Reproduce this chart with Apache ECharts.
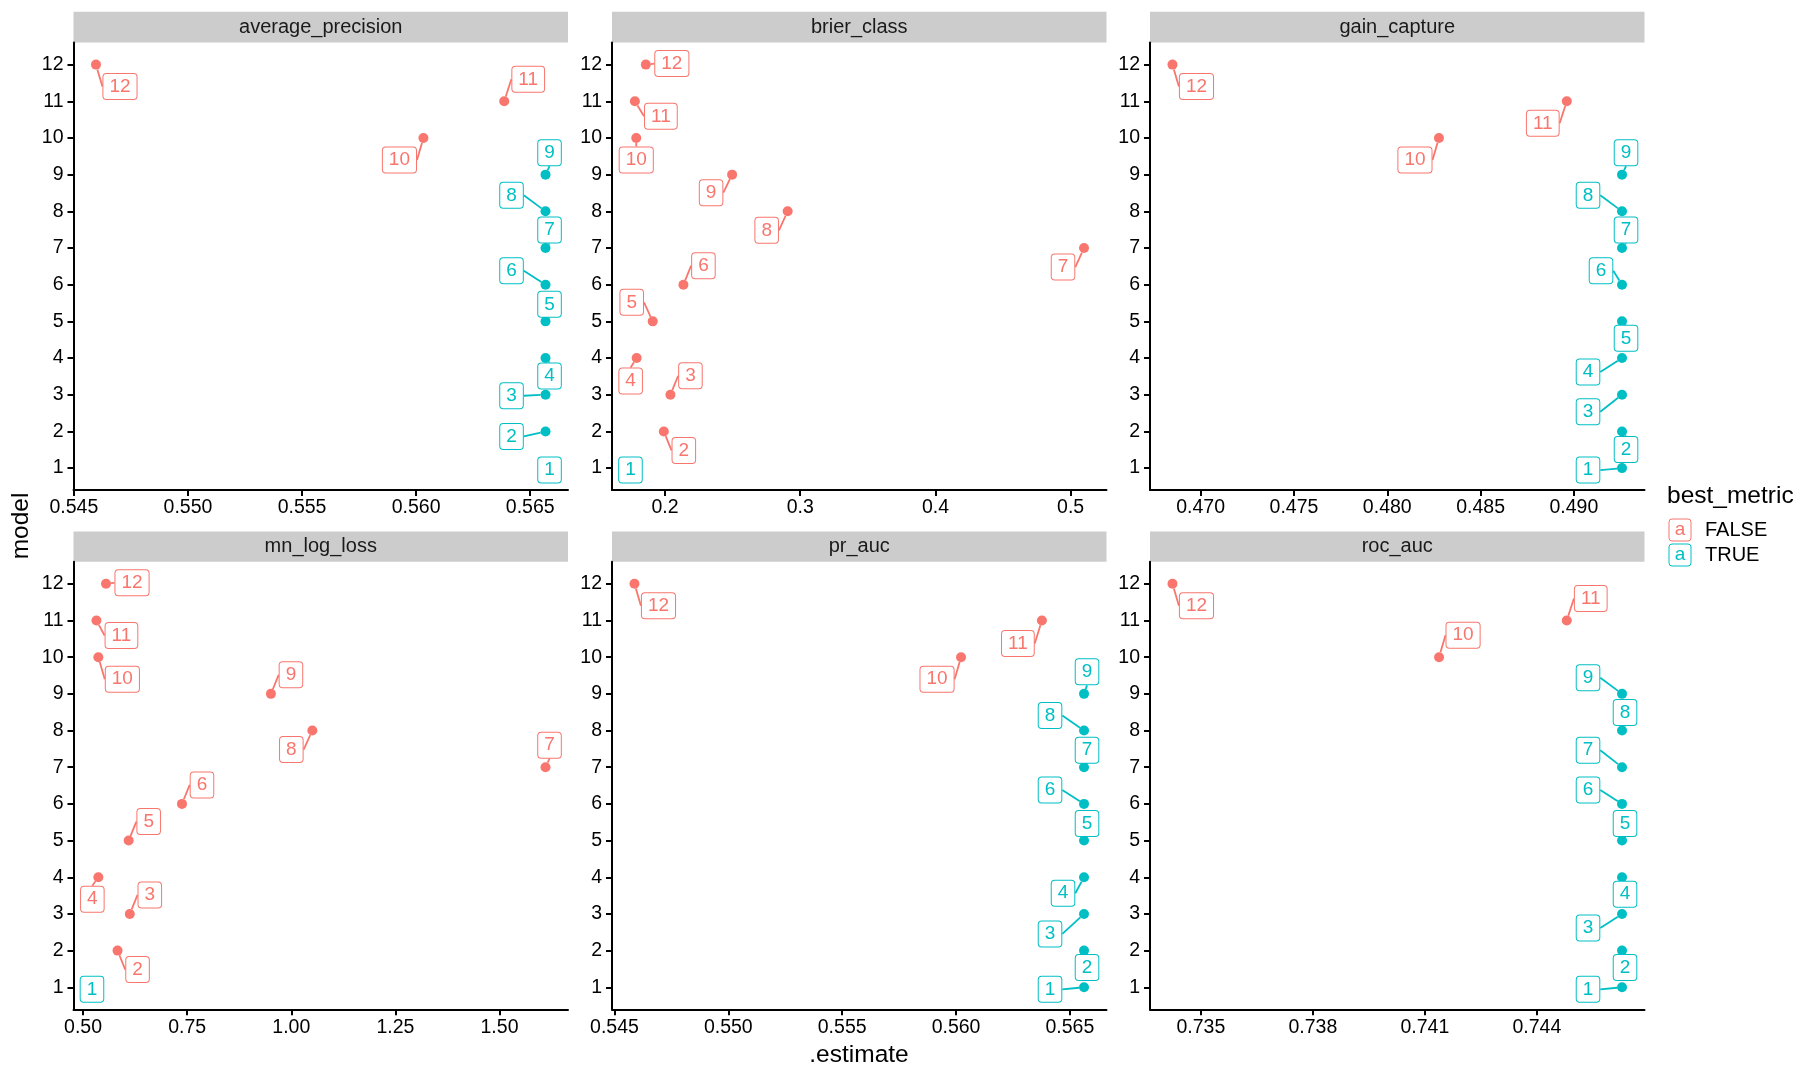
<!DOCTYPE html>
<html>
<head>
<meta charset="utf-8">
<script src="https://cdn.jsdelivr.net/npm/echarts@6/dist/echarts.min.js"></script>
<style>
  html, body { margin: 0; padding: 0; background: #fff; }
  #chart { width: 1800px; height: 1080px; }
</style>
</head>
<body>
<div id="chart"></div>
<script>
// ---- data ----
var models = ['1', '2', '3', '4', '5', '6', '7', '8', '9', '10', '11', '12'];
var metrics = ['average_precision', 'brier_class', 'gain_capture', 'mn_log_loss', 'pr_auc', 'roc_auc'];

var averagePrecision = [0.56567, 0.56567, 0.56567, 0.56567, 0.56567, 0.56567, 0.56567, 0.56567, 0.56567, 0.56032, 0.56386, 0.54597];
var brierClass = [0.1774, 0.1991, 0.2040, 0.1790, 0.1909, 0.2136, 0.5099, 0.2907, 0.2496, 0.1787, 0.1777, 0.1858];
var gainCapture = [0.49258, 0.49258, 0.49258, 0.49258, 0.49258, 0.49258, 0.49258, 0.49258, 0.49258, 0.48277, 0.48962, 0.46849];
var mnLogLoss = [0.5311, 0.5829, 0.6123, 0.5368, 0.6096, 0.7376, 1.6105, 1.0506, 0.9512, 0.5368, 0.5322, 0.5552];
var prAuc = [0.56562, 0.56562, 0.56562, 0.56562, 0.56562, 0.56562, 0.56562, 0.56562, 0.56562, 0.56022, 0.56377, 0.54588];
var rocAuc = [0.74628, 0.74628, 0.74628, 0.74628, 0.74628, 0.74628, 0.74628, 0.74628, 0.74628, 0.74138, 0.7448, 0.73424];

// models flagged best_metric = TRUE
var bestAP = [1, 2, 3, 4, 5, 6, 7, 8, 9];
var bestBrier = [1];
var bestGain = [1, 2, 3, 4, 5, 6, 7, 8, 9];
var bestLogLoss = [1];
var bestPR = [1, 2, 3, 4, 5, 6, 7, 8, 9];
var bestROC = [1, 2, 3, 4, 5, 6, 7, 8, 9];

// x tick values
var ticksAP = [0.545, 0.550, 0.555, 0.560, 0.565];
var ticksBrier = [0.2, 0.3, 0.4, 0.5];
var ticksGain = [0.470, 0.475, 0.480, 0.485, 0.490];
var ticksLogLoss = [0.50, 0.75, 1.00, 1.25, 1.50];
var ticksPR = [0.545, 0.550, 0.555, 0.560, 0.565];
var ticksROC = [0.735, 0.738, 0.741, 0.744];
var ticksModel = [1, 2, 3, 4, 5, 6, 7, 8, 9, 10, 11, 12];

// ---- layout / style ----
var colFalse = '#F8766D', colTrue = '#00BFC4';
var font = 'Liberation Sans, Arial, sans-serif';
var colLeft = [73.5, 612, 1150], panelW = 494.5;
var rowTop = [42.6, 561.8], panelH = 447.5;
var decimals = [3, 1, 3, 2, 3, 3];

// repel-like nudges (px) of each label from its point, models 1..12
var nudges = [
  [[4,2],[-34,5],[-34,1],[4,18],[4,-17],[-34,-14],[4,-18],[-34,-16],[4,-22],[-24,22],[24,-22],[24,22]],
  [[-4,2],[20,19],[20,-19],[-6,23],[-21,-19],[20,-19],[-21,19],[-21,19],[-21,18],[0,22],[26,15],[26,-1]],
  [[-34,2],[4,18],[-34,17],[-34,14],[4,17],[-21,-14],[4,-18],[-34,-16],[4,-22],[-24,22],[-24,22],[24,22]],
  [[-4,2],[20,19],[20,-19],[-6,22],[20,-19],[20,-19],[4,-22],[-21,19],[20,-19],[24,22],[25,15],[26,-1]],
  [[-34,2],[3,17],[-34,20],[-21,16],[3,-17],[-34,-14],[3,-17],[-34,-15],[3,-22],[-24,22],[-24,23],[24,22]],
  [[-34,2],[3,17],[-34,14],[3,17],[3,-17],[-34,-14],[-34,-17],[3,-18],[-34,-16],[24,-22],[24,-22],[24,22]]
];

var panelValues = [averagePrecision, brierClass, gainCapture, mnLogLoss, prAuc, rocAuc];
var panelBest = [bestAP, bestBrier, bestGain, bestLogLoss, bestPR, bestROC];
var panelTicks = [ticksAP, ticksBrier, ticksGain, ticksLogLoss, ticksPR, ticksROC];

var grids = [], xAxes = [], yAxes = [], series = [], graphics = [];

metrics.forEach(function (name, i) {
  var col = i % 3, row = Math.floor(i / 3);
  var vals = panelValues[i];
  var lo = Math.min.apply(null, vals), hi = Math.max.apply(null, vals);
  var pad = (hi - lo) * 0.05;

  grids.push({ left: colLeft[col], top: rowTop[row], width: panelW, height: panelH });

  xAxes.push({
    type: 'value', gridIndex: i, min: lo - pad, max: hi + pad,
    axisLine: { show: true, onZero: false, lineStyle: { color: '#000', width: 2 } },
    axisTick: { show: true, length: 6, customValues: panelTicks[i], lineStyle: { color: '#000', width: 2 } },
    axisLabel: {
      customValues: panelTicks[i], margin: 8, color: '#000', fontSize: 19.5, fontFamily: font,
      formatter: (function (d) { return function (v) { return v.toFixed(d); }; })(decimals[i])
    },
    splitLine: { show: false }
  });

  yAxes.push({
    type: 'value', gridIndex: i, min: 0.4, max: 12.6,
    axisLine: { show: true, onZero: false, lineStyle: { color: '#000', width: 2 } },
    axisTick: { show: true, length: 6, customValues: ticksModel, lineStyle: { color: '#000', width: 2 } },
    axisLabel: { customValues: ticksModel, margin: 10, color: '#000', fontSize: 19.5, fontFamily: font },
    splitLine: { show: false }
  });

  var best = panelBest[i];
  var nd = nudges[i];
  series.push({
    type: 'scatter', xAxisIndex: i, yAxisIndex: i, symbolSize: 10,
    itemStyle: { opacity: 1 },
    data: vals.map(function (v, k) {
      var c = best.indexOf(k + 1) >= 0 ? colTrue : colFalse;
      var far = Math.sqrt(nd[k][0] * nd[k][0] + nd[k][1] * nd[k][1]) > 12;
      return {
        value: [v, k + 1], name: models[k],
        itemStyle: { color: c },
        label: { color: c, borderColor: c },
        labelLine: { show: far }
      };
    }),
    label: {
      show: true, position: 'inside', formatter: '{b}',
      fontSize: 19, fontFamily: font,
      backgroundColor: '#fff', borderWidth: 1, borderRadius: 3,
      padding: [4, 6, 2, 6]
    },
    labelLine: { show: true, length2: 0, lineStyle: { width: 1.8 } },
    labelLayout: function (p) { return { dx: nd[p.dataIndex][0], dy: nd[p.dataIndex][1] }; }
  });

  // facet strip
  var stripTop = row === 0 ? 11.8 : 531.4;
  var stripH = rowTop[row] - stripTop;
  graphics.push({
    type: 'rect', shape: { x: colLeft[col], y: stripTop, width: panelW, height: stripH },
    style: { fill: '#cccccc' }, silent: true
  });
  graphics.push({
    type: 'text', x: colLeft[col] + panelW / 2, y: stripTop + stripH / 2,
    style: { text: name, fill: '#1a1a1a', font: '20px ' + font, align: 'center', verticalAlign: 'middle' }
  });
});

// axis titles
graphics.push({
  type: 'text', x: 859, y: 1055,
  style: { text: '.estimate', fill: '#000', font: '24.5px ' + font, align: 'center', verticalAlign: 'middle' }
});
graphics.push({
  type: 'text', x: 21, y: 526, rotation: Math.PI / 2,
  style: { text: 'model', fill: '#000', font: '24.5px ' + font, align: 'center', verticalAlign: 'middle' }
});

// legend
graphics.push({
  type: 'text', x: 1667, y: 496,
  style: { text: 'best_metric', fill: '#000', font: '24.5px ' + font, align: 'left', verticalAlign: 'middle' }
});
[['FALSE', colFalse, 530], ['TRUE', colTrue, 555]].forEach(function (it) {
  graphics.push({
    type: 'rect', shape: { x: 1669, y: it[2] - 11, width: 22, height: 22, r: 3 },
    style: { fill: '#fff', stroke: it[1], lineWidth: 1 }
  });
  graphics.push({
    type: 'text', x: 1680, y: it[2],
    style: { text: 'a', fill: it[1], font: '19px ' + font, align: 'center', verticalAlign: 'middle' }
  });
  graphics.push({
    type: 'text', x: 1705, y: it[2],
    style: { text: it[0], fill: '#000', font: '20px ' + font, align: 'left', verticalAlign: 'middle' }
  });
});

var option = {
  animation: false,
  backgroundColor: '#fff',
  grid: grids,
  xAxis: xAxes,
  yAxis: yAxes,
  series: series,
  graphic: graphics
};

var chart = echarts.init(document.getElementById('chart'));
chart.setOption(option);
</script>
</body>
</html>
